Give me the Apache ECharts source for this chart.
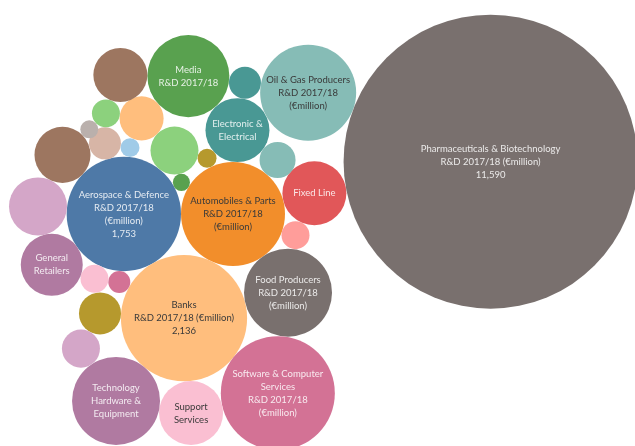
<!DOCTYPE html>
<html>
<head>
<meta charset="utf-8">
<script src="https://cdn.jsdelivr.net/npm/echarts@6/dist/echarts.min.js"></script>
<style>
  html, body { margin: 0; padding: 0; background: #ffffff; }
  #chart { width: 635px; height: 446px; }
</style>
</head>
<body>
<div id="chart"></div>
<script>
// Business R&D spend by sector, 2017/18 (€million)
const sectors = [
  'Automobiles & Parts', 'Aerospace & Defence', '', 'Banks', 'Food Producers',
  '', 'Fixed Line', '', '', 'Electronic & Electrical',
  '', '', '', 'General Retailers', '',
  '', '', '', '', '',
  '', 'Media', '', '', 'Oil & Gas Producers',
  'Pharmaceuticals & Biotechnology', 'Software & Computer Services', 'Support Services',
  'Technology Hardware & Equipment', '', ''
];

const rdValues = [
  1450, 1753, 39, 2136, 1038,
  105, 549, 309, 48, 549,
  174, 65, 105, 515, 451,
  421, 137, 48, 260, 105,
  43, 902, 391, 137, 1236,
  11590, 1743, 549,
  1038, 237, 194
];

// Text printed inside each bubble
const bubbleLabels = [
  ['Automobiles & Parts', 'R&D 2017/18', '(€million)'],
  ['Aerospace & Defence', 'R&D 2017/18', '(€million)', '1,753'],
  [],
  ['Banks', 'R&D 2017/18 (€million)', '2,136'],
  ['Food Producers', 'R&D 2017/18', '(€million)'],
  [],
  ['Fixed Line'],
  [], [],
  ['Electronic &', 'Electrical'],
  [], [], [],
  ['General', 'Retailers'],
  [], [], [], [], [], [], [],
  ['Media', 'R&D 2017/18'],
  [], [],
  ['Oil & Gas Producers', 'R&D 2017/18', '(€million)'],
  ['Pharmaceuticals & Biotechnology', 'R&D 2017/18 (€million)', '11,590'],
  ['Software & Computer', 'Services', 'R&D 2017/18', '(€million)'],
  ['Support', 'Services'],
  ['Technology', 'Hardware &', 'Equipment'],
  [], []
];

// Fill colours (Tableau 20 palette)
const fills = [
  '#F28E2B', '#4E79A7', '#59A14F', '#FFBE7D', '#79706E',
  '#FF9D9A', '#E15759', '#8CD17D', '#B6992D', '#499894',
  '#86BCB6', '#D37295', '#FABFD2', '#B07AA1', '#D4A6C8',
  '#9D7660', '#D7B5A6', '#A0CBE8', '#FFBE7D', '#8CD17D',
  '#BAB0AC', '#59A14F', '#9D7660', '#499894', '#86BCB6',
  '#79706E', '#D37295', '#FABFD2',
  '#B07AA1', '#B6992D', '#D4A6C8'
];
const darkText = new Set([0, 3, 24, 27]);

// Bubble area is proportional to R&D spend
const PX_PER_SQRT = 147 / Math.sqrt(11590);
const radius = v => PX_PER_SQRT * Math.sqrt(v);

// Packing: each bubble rests against two bubbles placed before it,
// on the given side of the line joining them.
const packing = [
  [2, 1, 0, -1], [3, 1, 0, 1], [4, 0, 3, -1], [5, 0, 4, -1], [6, 0, 5, -1],
  [7, 1, 2, -1], [8, 7, 0, -1], [9, 8, 0, -1], [10, 9, 0, -1],
  [11, 3, 1, -1], [12, 11, 1, -1], [13, 12, 1, -1], [14, 13, 1, -1],
  [15, 14, 1, -1], [16, 15, 1, -1], [17, 16, 1, -1], [18, 17, 7, -1],
  [19, 16, 18, -1], [20, 15, 19, -1], [21, 18, 9, -1], [22, 19, 21, -1],
  [23, 21, 9, -1], [24, 23, 9, -1], [25, 24, 6, -1],
  [26, 3, 4, 1], [27, 3, 26, 1], [28, 27, 3, -1], [29, 12, 3, 1], [30, 29, 28, 1]
];

function layoutBubbles() {
  const pos = new Array(rdValues.length);
  const r = rdValues.map(radius);
  pos[0] = [0, 0];
  pos[1] = [-(r[0] + r[1]), 0];
  packing.forEach(([i, a, b, side]) => {
    const [ax, ay] = pos[a], [bx, by] = pos[b];
    const dx = bx - ax, dy = by - ay;
    const d = Math.hypot(dx, dy);
    const ux = dx / d, uy = dy / d;
    const da = r[a] + r[i], db = r[b] + r[i];
    const along = (da * da - db * db + d * d) / (2 * d);
    const h = Math.sqrt(Math.max(0, da * da - along * along));
    pos[i] = [ax + along * ux - side * h * uy, ay + along * uy + side * h * ux];
  });
  return pos;
}

const positions = layoutBubbles();

const seriesData = rdValues.map((v, i) => ({
  name: sectors[i],
  value: [positions[i][0], positions[i][1], v],
  itemStyle: { color: fills[i] },
  label: {
    show: bubbleLabels[i].length > 0,
    formatter: bubbleLabels[i].join('\n'),
    color: darkText.has(i) ? '#3a3a3a' : 'rgba(255,255,255,0.85)'
  }
}));

const chart = echarts.init(document.getElementById('chart'), null, { renderer: 'canvas' });
chart.setOption({
  animation: false,
  backgroundColor: '#ffffff',
  grid: { left: 0, right: 0, top: 0, bottom: 0 },
  xAxis: { type: 'value', min: -233, max: 402, show: false },
  yAxis: { type: 'value', min: -214, max: 232, inverse: true, show: false },
  series: [{
    type: 'scatter',
    data: seriesData,
    symbol: 'circle',
    symbolSize: val => 2 * radius(val[2]),
    itemStyle: { opacity: 1, borderWidth: 0 },
    label: {
      position: 'inside',
      fontFamily: 'Lato',
      fontSize: 9.5,
      lineHeight: 13
    },
    emphasis: { disabled: true }
  }]
});
</script>
</body>
</html>
